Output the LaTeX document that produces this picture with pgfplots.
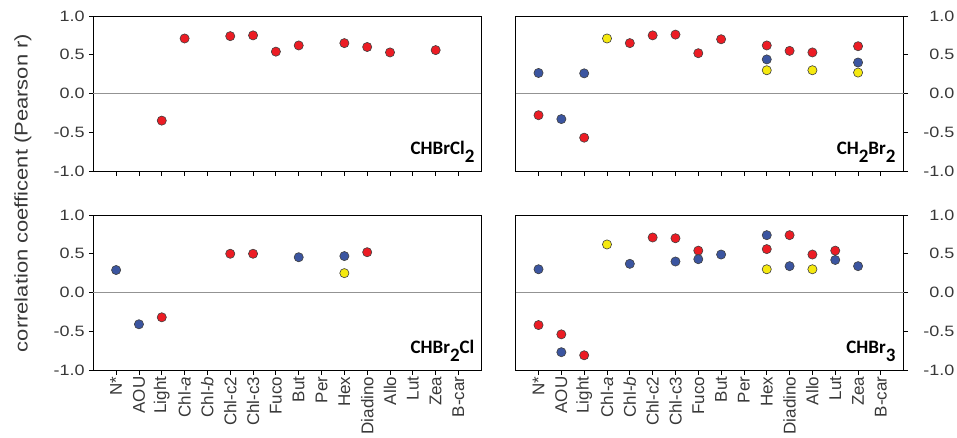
\documentclass[border=0pt]{standalone}
\usepackage{pgfplots}
\pgfplotsset{compat=1.18}
\usepackage{fontspec}
\setmainfont{Liberation Sans}
\newfontfamily\wide[FakeStretch=1.2]{Liberation Sans}
\newfontfamily\lab{Carlito}
\definecolor{pr}{HTML}{EC1C24}
\definecolor{pb}{HTML}{3B55A0}
\definecolor{py}{HTML}{F5E90F}
\definecolor{tl}{HTML}{383838}
\newcommand{\sub}[1]{\raisebox{-8pt}{#1}}
\tikzset{plab/.style={anchor=south east, inner sep=0pt, font=\lab\bfseries\fontsize{19}{19}\selectfont}}
\begin{document}
\begin{tikzpicture}[x=1pt,y=1pt]
\pgfplotsset{
  panel/.style={
    scale only axis, width=388pt, height=155pt,
    xmin=-1, xmax=16, ymin=-1, ymax=1,
    xtick={0,...,15}, ytick={-1,-0.5,0,0.5,1},
    xtick pos=lower, tick align=outside, major tick length=4.5pt,
    axis line style={black, line width=0.8pt},
    tick style={black, line width=0.8pt},
    /pgf/number format/assume math mode=true,
    yticklabel style={font=\wide\fontsize{15}{18}\selectfont, text=tl, /pgf/number format/fixed, /pgf/number format/fixed zerofill, /pgf/number format/precision=1},
    extra y ticks={0}, extra y tick labels={},
    extra y tick style={grid=major, major grid style={gray!85, line width=1pt}, major tick length=0pt},
    clip=false,
  },
  pL/.style={ytick pos=left, yticklabel style={inner xsep=4pt}},
  pR/.style={ytick pos=right, yticklabel pos=right, yticklabel style={inner xsep=4pt, text width=40pt, align=right, xshift=2pt}},
  pT/.style={xticklabels={}},
  pB/.style={xticklabels={N*,AOU,Light,Chl-\textit{a},Chl-\textit{b},Chl-c2,Chl-c3,Fuco,But,Per,Hex,Diadino,Allo,Lut,Zea,B-car},
    xticklabel style={rotate=90, anchor=east, inner sep=2pt, font=\fontsize{17}{19}\selectfont, text=tl}},
  sr/.style={only marks, mark=*, mark size=4.6pt, mark options={fill=pr, draw=black!75, line width=0.6pt}},
  sb/.style={only marks, mark=*, mark size=4.6pt, mark options={fill=pb, draw=black!75, line width=0.6pt}},
  sy/.style={only marks, mark=*, mark size=4.6pt, mark options={fill=py, draw=black!75, line width=0.6pt}},
}
\path[use as bounding box] (0,0) rectangle (957,437);
\node[rotate=90, font=\wide\fontsize{18.3}{20}\selectfont, text=tl] at (23,244) {correlation coefficent (Pearson r)};

% top-left: CHBrCl2
\begin{axis}[panel, pL, pT, at={(93.3pt,266pt)}, anchor=south west]
\addplot[sr] coordinates {(2,-0.35) (3,0.71) (5,0.74) (6,0.75) (7,0.54) (8,0.62) (10,0.65) (11,0.60) (12,0.53) (14,0.56)};
\node[plab] at (rel axis cs:1,0) [xshift=-6.7pt, yshift=8pt] {CHBrCl\sub{2}};
\end{axis}

% top-right: CH2Br2
\begin{axis}[panel, pR, pT, at={(515.7pt,266pt)}, anchor=south west]
\addplot[sr] coordinates {(0,-0.28) (2,-0.57) (4,0.65) (5,0.75) (6,0.76) (7,0.52) (8,0.70) (10,0.62) (11,0.55) (12,0.53) (14,0.61)};
\addplot[sb] coordinates {(0,0.265) (1,-0.33) (2,0.26) (10,0.44) (14,0.40)};
\addplot[sy] coordinates {(3,0.71) (10,0.30) (12,0.30) (14,0.27)};
\node[plab] at (rel axis cs:1,0) [xshift=-8pt, yshift=8pt] {CH\sub{2}Br\sub{2}};
\end{axis}

% bottom-left: CHBr2Cl
\begin{axis}[panel, pL, pB, at={(93.3pt,67pt)}, anchor=south west]
\addplot[sr] coordinates {(2,-0.32) (5,0.50) (6,0.50) (11,0.52)};
\addplot[sb] coordinates {(0,0.29) (1,-0.41) (8,0.455) (10,0.47)};
\addplot[sy] coordinates {(10,0.25)};
\node[plab] at (rel axis cs:1,0) [xshift=-6.7pt, yshift=8pt] {CHBr\sub{2}Cl};
\end{axis}

% bottom-right: CHBr3
\begin{axis}[panel, pR, pB, at={(515.7pt,67pt)}, anchor=south west]
\addplot[sr] coordinates {(0,-0.42) (1,-0.54) (2,-0.81) (5,0.71) (6,0.70) (7,0.54) (10,0.56) (11,0.74) (12,0.49) (13,0.54)};
\addplot[sb] coordinates {(0,0.30) (1,-0.77) (4,0.37) (6,0.40) (7,0.43) (8,0.49) (10,0.74) (11,0.34) (13,0.42) (14,0.34)};
\addplot[sy] coordinates {(3,0.62) (10,0.30) (12,0.30)};
\node[plab] at (rel axis cs:1,0) [xshift=-8pt, yshift=8pt] {CHBr\sub{3}};
\end{axis}
\end{tikzpicture}
\end{document}
